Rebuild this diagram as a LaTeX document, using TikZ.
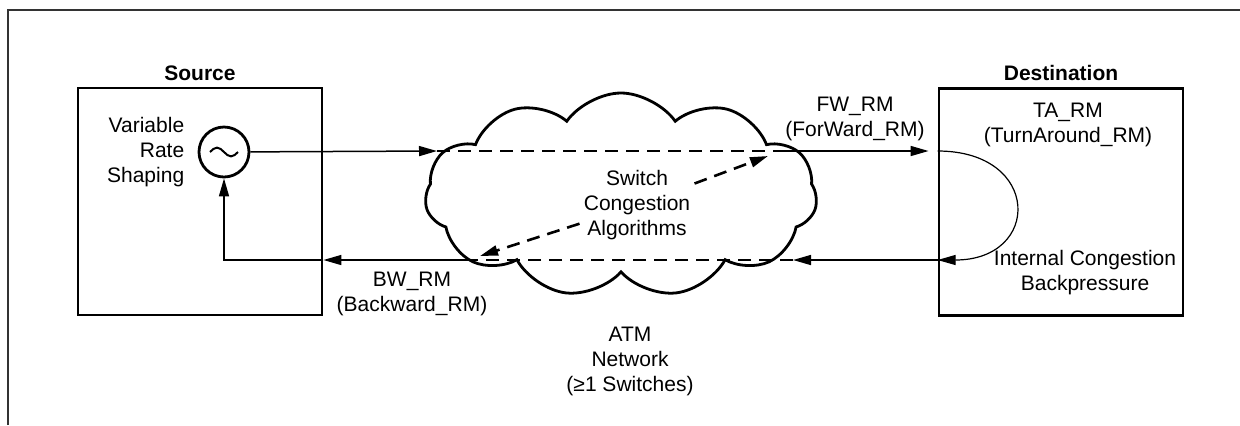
\documentclass[tikz,border=0pt]{standalone}
\usepackage{fontspec}
\setmainfont{Liberation Sans}
\usetikzlibrary{arrows.meta,positioning,shapes.symbols}

\begin{document}
\begin{tikzpicture}[
  x=0.5pt, y=-0.5pt,
  font=\fontsize{10.5}{12.5}\selectfont,
  box/.style={draw=black, line width=1.4pt, minimum width=122pt,
              minimum height=113.5pt, inner sep=0pt},
  title/.style={font=\fontsize{10.5}{12.5}\selectfont\bfseries, inner sep=1pt},
  lbl/.style={align=center, inner sep=0pt},
  arrow/.style={-{Triangle[length=9pt,width=5pt]}, line width=0.75pt, draw=black},
  dashline/.style={line width=1.3pt, dash pattern=on 6.5pt off 4pt},
  dasharrow/.style={arrow, dashline}
]
\useasboundingbox (0,0) rectangle (1240,425);
\draw[line width=0.8pt, black!80] (8,425) -- (8,10) -- (1240,10);

% end systems
\node[box] (src) at (200,201.5) {};
\node[box] (dst) at (1061,202) {};
\node[title, above=2pt of src] (srctitle) {Source};
\node[title, above=2pt of dst] (dsttitle) {Destination};

% rate shaper
\node[circle, draw, line width=1.4pt, minimum size=25pt, inner sep=0pt] (osc) at (224,152) {};
\draw[line width=1pt] ([xshift=-7pt]osc.center) sin ++(3.5pt,2.2pt) cos ++(3.5pt,-2.2pt)
  sin ++(3.5pt,-2.2pt) cos ++(3.5pt,2.2pt);
\node[lbl, align=right, left=6.5pt of osc] (shaper) {Variable\\Rate\\Shaping};

% network cloud
\node[cloud, draw, line width=1.4pt, cloud puffs=11, cloud puff arc=110, aspect=2,
      minimum width=196pt, minimum height=102pt] (net) at (621,195) {};
\node[lbl, inner sep=2pt] (algo) at (637,205) {Switch\\Congestion\\Algorithms};
\node[lbl] (netlbl) at (630,361) {ATM\\Network\\(≥1 Switches)};

\coordinate (fwin) at (437,151);
\coordinate (fwout) at (775,151);
\coordinate (bwin) at (793,260);
\coordinate (bwout) at (477,260);
\coordinate (fwtip) at (768,156);
\coordinate (bwtip) at (480,256);

% RM cell labels
\node[lbl] (fwlbl) at (855,119) {FW\_RM\\(ForWard\_RM)};
\node[lbl] (talbl) at (1068,124.5) {TA\_RM\\(TurnAround\_RM)};
\node[lbl] (bplbl) at (1085,273) {Internal Congestion\\Backpressure};
\node[lbl] (bwlbl) at (412,294) {BW\_RM\\(Backward\_RM)};

% forward path
\draw[arrow] (osc) -- (fwin);
\draw[dashline] (fwin) -- (fwout);
\draw[arrow, shorten >=4.5pt] (fwout) -- (fwout -| dst.west);

% turnaround
\draw[arrow, line width=0.6pt] (dst.west |- fwout) .. controls +(104,0) and +(104,0) .. (dst.west |- bwin);

% backward path
\draw[arrow] (bwin -| dst.west) -- (bwin);
\draw[dashline] (bwin) -- (bwout);
\draw[arrow] (bwout) -- (bwout -| src.east);
\draw[arrow] (bwout -| src.east) -| (osc.south);

% switch feedback
\draw[dasharrow] (algo) -- (fwtip);
\draw[dasharrow] (algo) -- (bwtip);
\end{tikzpicture}
\end{document}
